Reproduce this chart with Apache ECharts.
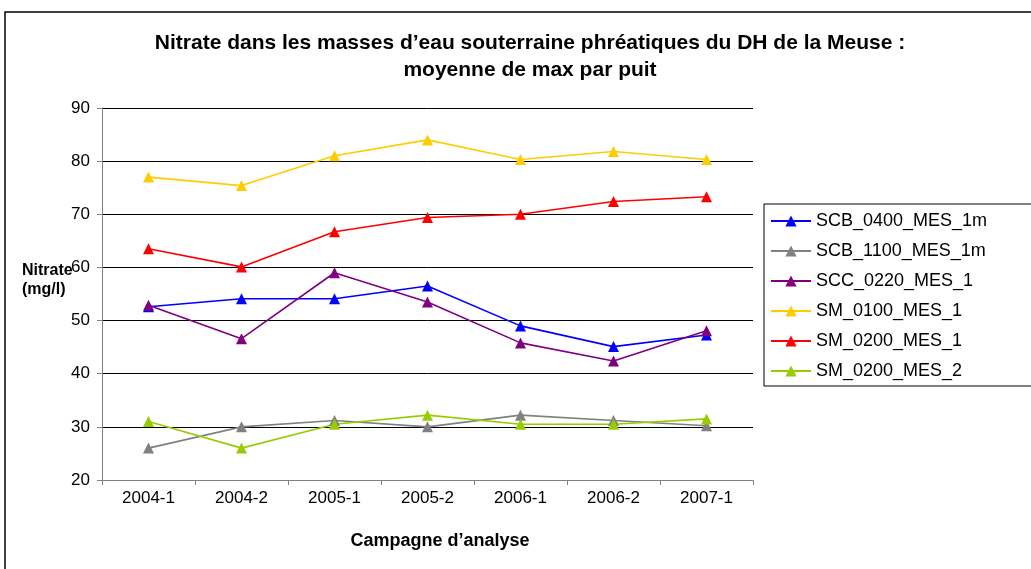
<!DOCTYPE html>
<html>
<head>
    <meta charset="utf-8">
    <title>Nitrate - DH de la Meuse</title>
    <script type="text/javascript" src="https://cdn.jsdelivr.net/npm/echarts@6/dist/echarts.min.js"></script>
    <style>
        html, body { margin: 0; padding: 0; background: #fff; }
    </style>
</head>
<body>
<div id="chartmain" style="width:1031px; height:569px;"></div>
<script type="text/javascript">
// campagnes d'analyse (axe x)
var campagnes = ['2004-1', '2004-2', '2005-1', '2005-2', '2006-1', '2006-2', '2007-1'];

// valeurs (mg/l)
var scb0400 = [52.6, 54.1, 54.1, 56.5, 49.0, 45.1, 47.3];
var scb1100 = [26.0, 30.0, 31.2, 30.0, 32.2, 31.2, 30.2];
var scc0220 = [52.9, 46.6, 59.0, 53.5, 45.8, 42.4, 48.1];
var sm0100 = [77.0, 75.4, 81.0, 84.0, 80.3, 81.8, 80.3];
var sm0200_1 = [63.5, 60.1, 66.7, 69.4, 70.0, 72.4, 73.3];
var sm0200_2 = [31.0, 26.0, 30.5, 32.2, 30.5, 30.5, 31.5];

var noms = ['SCB_0400_MES_1m', 'SCB_1100_MES_1m', 'SCC_0220_MES_1', 'SM_0100_MES_1', 'SM_0200_MES_1', 'SM_0200_MES_2'];
var couleurs = ['#0000ff', '#808080', '#800080', '#ffcc00', '#ff0000', '#99cc00'];
var donnees = [scb0400, scb1100, scc0220, sm0100, sm0200_1, sm0200_2];

var police = 'Arial, "Liberation Sans", sans-serif';

var series = [];
for (var i = 0; i < noms.length; i++) {
    series.push({
        name: noms[i],
        type: 'line',
        data: donnees[i],
        symbol: 'triangle',
        symbolSize: 11,
        lineStyle: { color: couleurs[i], width: 1.6 },
        itemStyle: { color: couleurs[i] },
        emphasis: { disabled: true },
        animation: false
    });
}

var option = {
    backgroundColor: '#fff',
    textStyle: { fontFamily: police },
    title: {
        text: 'Nitrate dans les masses d\u2019eau souterraine phréatiques du DH de la Meuse :\nmoyenne de max par puit',
        left: 525,
        textAlign: 'center',
        top: 25,
        textStyle: { fontFamily: police, fontSize: 21, fontWeight: 'bold', color: '#000', lineHeight: 27 }
    },
    legend: {
        orient: 'vertical',
        left: 764,
        top: 204,
        data: noms,
        itemWidth: 40,
        itemHeight: 14,
        itemGap: 12,
        padding: [8, 200, 6, 6],
        borderColor: '#000',
        borderWidth: 1,
        textStyle: { fontFamily: police, fontSize: 18, lineHeight: 18, color: '#000' }
    },
    grid: { left: 102, right: 278, top: 108, bottom: 89 },
    xAxis: {
        type: 'category',
        data: campagnes,
        boundaryGap: true,
        name: 'Campagne d\u2019analyse',
        nameLocation: 'middle',
        nameGap: 52,
        nameTextStyle: { fontFamily: police, fontSize: 18, fontWeight: 'bold', color: '#000', padding: [0, 0, 0, 25] },
        axisLine: { lineStyle: { color: '#808080', width: 1 } },
        axisTick: { show: true, length: 5, lineStyle: { color: '#808080' } },
        axisLabel: { fontFamily: police, fontSize: 17, color: '#000', margin: 10 }
    },
    yAxis: {
        type: 'value',
        min: 20,
        max: 90,
        interval: 10,
        axisLine: { show: true, lineStyle: { color: '#808080', width: 1 } },
        axisTick: { show: true, length: 5, lineStyle: { color: '#808080' } },
        axisLabel: { fontFamily: police, fontSize: 17, color: '#000', margin: 12 },
        splitLine: { lineStyle: { color: '#000', width: 1 } }
    },
    graphic: [
        {
            type: 'rect',
            shape: { x: 5, y: 12, width: 1100, height: 620 },
            style: { fill: 'none', stroke: '#000', lineWidth: 1.5 },
            silent: true
        },
        {
            type: 'text',
            left: 22,
            top: 261,
            style: { text: 'Nitrate\n(mg/l)', font: 'bold 16px ' + police, fill: '#000', lineHeight: 19 }
        }
    ],
    series: series
};

var myChart = echarts.init(document.getElementById('chartmain'));
myChart.setOption(option);
</script>
</body>
</html>
